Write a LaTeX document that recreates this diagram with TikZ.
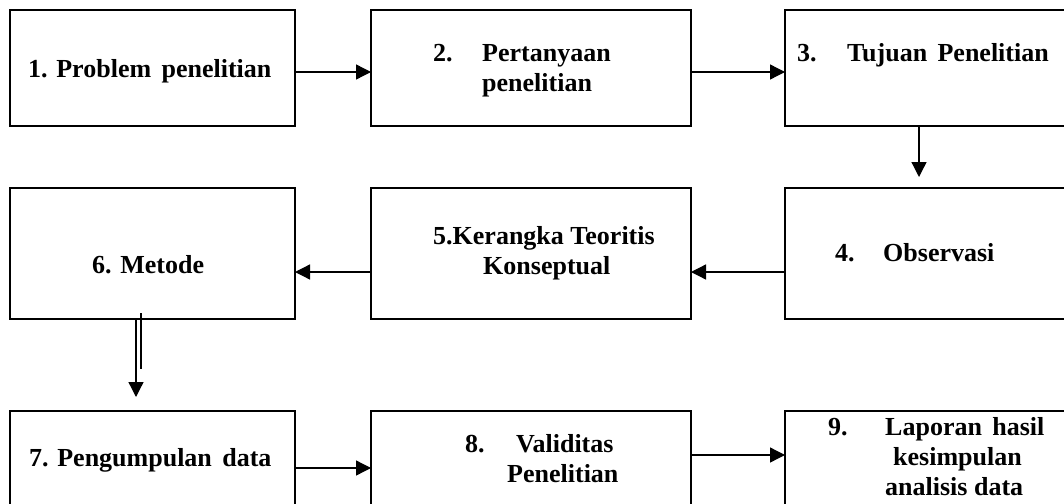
\documentclass[tikz,border=0pt]{standalone}
\usepackage{fontspec}
\setmainfont{Liberation Serif}
\usetikzlibrary{arrows.meta}
\begin{document}
\begin{tikzpicture}[x=1pt, y=-1pt,
	box/.style={draw, line width=1.3pt, fill=white, shape=rectangle, inner sep=0pt, outer sep=0pt},
	txt/.style={inner sep=0pt, font=\bfseries\fontsize{26}{30}\selectfont, align=left},
	arr/.style={-{Triangle[length=15pt,width=15pt]}, line width=1.3pt}]
	\useasboundingbox (0,0) rectangle (1064,503);
	\clip (0,0) rectangle (1064,503);
	% boxes
	\path(152.5,68)    node[box, minimum width=285pt, minimum height=116pt](B1) {};
	\path(531,68)      node[box, minimum width=320pt, minimum height=116pt](B2) {};
	\path(937.5,68)    node[box, minimum width=305pt, minimum height=116pt](B3) {};
	\path(937.5,253.5) node[box, minimum width=305pt, minimum height=131pt](B4) {};
	\path(531,253.5)   node[box, minimum width=320pt, minimum height=131pt](B5) {};
	\path(152.5,253.5) node[box, minimum width=285pt, minimum height=131pt](B6) {};
	\path(152.5,471)   node[box, minimum width=285pt, minimum height=120pt](B7) {};
	\path(531,471)     node[box, minimum width=320pt, minimum height=120pt](B8) {};
	\path(937.5,471)   node[box, minimum width=305pt, minimum height=120pt](B9) {};
	% texts
	\path(28,77)   node[txt, anchor=base west](T1) {1. Problem\hspace{0.4em}penelitian};
	\path(433,44)  node[txt, anchor=north west](T2) {\makebox[49pt][l]{2.}Pertanyaan\\\hspace*{49pt}penelitian};
	\path(797,62)  node[txt, anchor=base west](T3) {\makebox[50pt][l]{3.}Tujuan\hspace{0.4em}Penelitian};
	\path(835,261) node[txt, anchor=base west](T4) {\makebox[48pt][l]{4.}Observasi};
	\path(433,226) node[txt, anchor=north west](T5) {5.Kerangka Teoritis\\\hspace*{50pt}Konseptual};
	\path(92,273)  node[txt, anchor=base west](T6) {6. Metode};
	\path(29,466)  node[txt, anchor=base west](T7) {7. Pengumpulan\hspace{0.4em}data};
	\path(465,434) node[txt, anchor=north west](T8) {\makebox[51pt][l]{8.}Validitas\\\hspace*{42pt}Penelitian};
	\path(828,417) node[txt, anchor=north west](T9) {\makebox[57pt][l]{9.}Laporan\hspace{0.4em}hasil\\\hspace*{65pt}kesimpulan\\\hspace*{57pt}analisis data};
	% arrows
	\draw[arr] ([yshift=-4pt]B1.east) -- ([yshift=-4pt]B2.west);
	\draw[arr] ([yshift=-4pt]B2.east) -- ([yshift=-4pt]B3.west);
	\draw[arr, shorten >=11pt] ([xshift=-18.5pt]B3.south) -- ([xshift=-18.5pt]B4.north);
	\draw[arr] ([yshift=-18.5pt]B4.west) -- ([yshift=-18.5pt]B5.east);
	\draw[arr] ([yshift=-18.5pt]B5.west) -- ([yshift=-18.5pt]B6.east);
	\draw[arr, shorten >=14pt] ([xshift=-16.5pt]B6.south) -- ([xshift=-16.5pt]B7.north);
	\draw[line width=1.3pt, shorten >=42pt] ([xshift=-11.5pt,yshift=6pt]B6.south) -- ([xshift=-11.5pt]B7.north);
	\draw[arr] ([yshift=3pt]B7.east) -- ([yshift=3pt]B8.west);
	\draw[arr] ([yshift=16pt]B8.east) -- ([yshift=16pt]B9.west);
\end{tikzpicture}
\end{document}
